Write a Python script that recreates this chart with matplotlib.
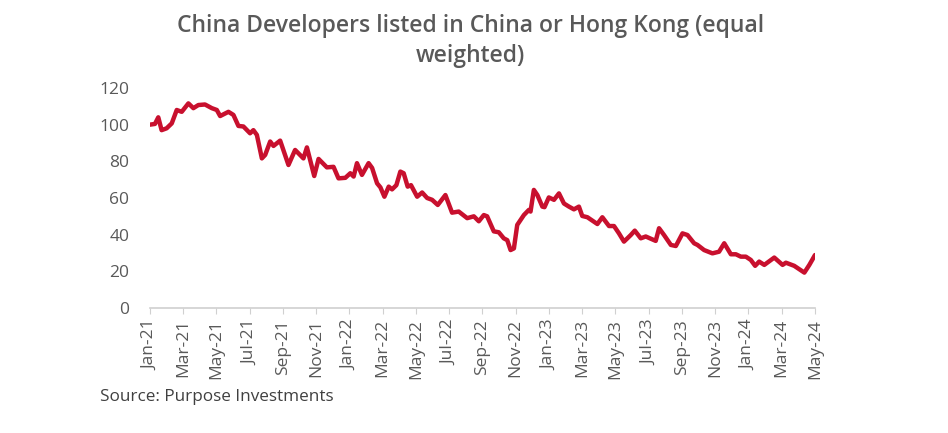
import matplotlib
matplotlib.use("Agg")
import matplotlib.pyplot as plt

# months since Jan-2021
months = [0.0, 0.3, 0.5, 0.7, 1.0, 1.31, 1.61, 1.91, 2.31, 2.61, 2.91, 3.31, 3.72, 4.02, 4.22, 4.72,
          5.02, 5.32, 5.62, 6.02, 6.22, 6.43, 6.73, 6.93, 7.23, 7.43, 7.83, 8.33, 8.73, 9.23, 9.44,
          9.88, 10.14, 10.64, 11.04, 11.34, 11.75, 12.05, 12.25, 12.45, 12.75, 13.15, 13.36, 13.66,
          13.86, 14.1, 14.36, 14.56, 14.82, 15.06, 15.26, 15.5, 15.7, 16.07, 16.37, 16.67, 16.97,
          17.31, 17.77, 18.17, 18.57, 19.08, 19.48, 19.78, 20.08, 20.28, 20.68, 20.98, 21.28, 21.49,
          21.69, 21.89, 22.09, 22.49, 22.79, 22.89, 23.09, 23.3, 23.6, 23.73, 23.99, 24.3, 24.6,
          24.9, 25.2, 25.5, 25.8, 26.0, 26.31, 26.91, 27.21, 27.61, 27.91, 28.21, 28.51, 28.92,
          29.16, 29.52, 29.82, 30.42, 30.62, 30.92, 31.33, 31.63, 32.03, 32.33, 32.73, 32.93, 33.33,
          33.83, 34.23, 34.54, 34.94, 35.24, 35.54, 35.84, 36.14, 36.4, 36.64, 36.95, 37.55, 38.05,
          38.25, 38.75, 39.36, 39.66, 40.0]
values = [100, 100.4, 104, 97, 98, 100.7, 108, 107, 111.6, 109, 110.7, 111, 109, 108, 104.7, 107,
          105.3, 99.3, 99, 95.3, 97, 94.4, 81.6, 83.5, 90.8, 88.4, 91.3, 78, 86.2, 81.6, 87.6,
          72, 81.3, 76.7, 77, 70.7, 71, 73.5, 71.7, 79, 72.6, 79, 76.4, 68,
          65.8, 60.7, 66.2, 64.7, 67, 74.4, 73.5, 66.2, 67, 60.7, 63, 60, 59,
          56.2, 61.6, 52, 52.6, 49, 50, 47.3, 50.7, 50, 41.8, 41.3, 38, 37,
          31.6, 32.5, 45.3, 50.7, 53.5, 52.6, 64.4, 61.6, 55.3, 55, 60.3, 59, 62.5,
          57, 55.3, 53.8, 55.3, 50.2, 49.5, 45.8, 49.5, 44.7, 44.7, 40.7, 36.2, 39.8,
          42.2, 38, 39, 36.6, 43.5, 39.8, 34.4, 33.8, 40.7, 39.8, 35.3, 34.4, 31.6,
          29.8, 30.7, 35.3, 29.3, 29.3, 28, 28, 26.2, 23, 25.3, 23.5, 27.5, 23.5,
          24.7, 23, 19.3, 23.5, 28.9]

tick_pos = list(range(0, 41, 2))
tick_labels = ["Jan-21", "Mar-21", "May-21", "Jul-21", "Sep-21", "Nov-21",
               "Jan-22", "Mar-22", "May-22", "Jul-22", "Sep-22", "Nov-22",
               "Jan-23", "Mar-23", "May-23", "Jul-23", "Sep-23", "Nov-23",
               "Jan-24", "Mar-24", "May-24"]
y_ticks = [0, 20, 40, 60, 80, 100, 120]

title = "China Developers listed in China or Hong Kong (equal\nweighted)"
source = "Source: Purpose Investments"

plt.rcParams['font.family'] = ['Open Sans', 'DejaVu Sans']

fig = plt.figure(figsize=(9.48, 4.33), dpi=100)
ax = fig.add_axes([0.1582, 0.2887, 0.7015, 0.5081])

ax.plot(months, values, color="#C8102E", lw=3.2, solid_joinstyle="round", solid_capstyle="round")

ax.set_xlim(0, 40)
ax.set_ylim(0, 120)
ax.set_xticks(tick_pos)
ax.set_xticklabels(tick_labels, rotation=90, fontsize=12.5, color="#595959")
ax.set_yticks(y_ticks)
ax.set_yticklabels([str(v) for v in y_ticks], fontsize=12.5, color="#595959")
ax.tick_params(axis="y", length=0, pad=15)
ax.tick_params(axis="x", length=4, color="#d0d0d0", pad=4)
for s in ["top", "right", "left"]:
    ax.spines[s].set_visible(False)
ax.spines["bottom"].set_color("#d0d0d0")
ax.spines["bottom"].set_linewidth(1.2)

fig.text(0.496, 0.905, title, ha="center", va="center", fontsize=16.5, color="#595959",
         fontweight="semibold", linespacing=1.35)
fig.text(0.105, 0.083, source, ha="left", va="center", fontsize=12.3, color="#404040")

fig.savefig("out.png", dpi=100)
